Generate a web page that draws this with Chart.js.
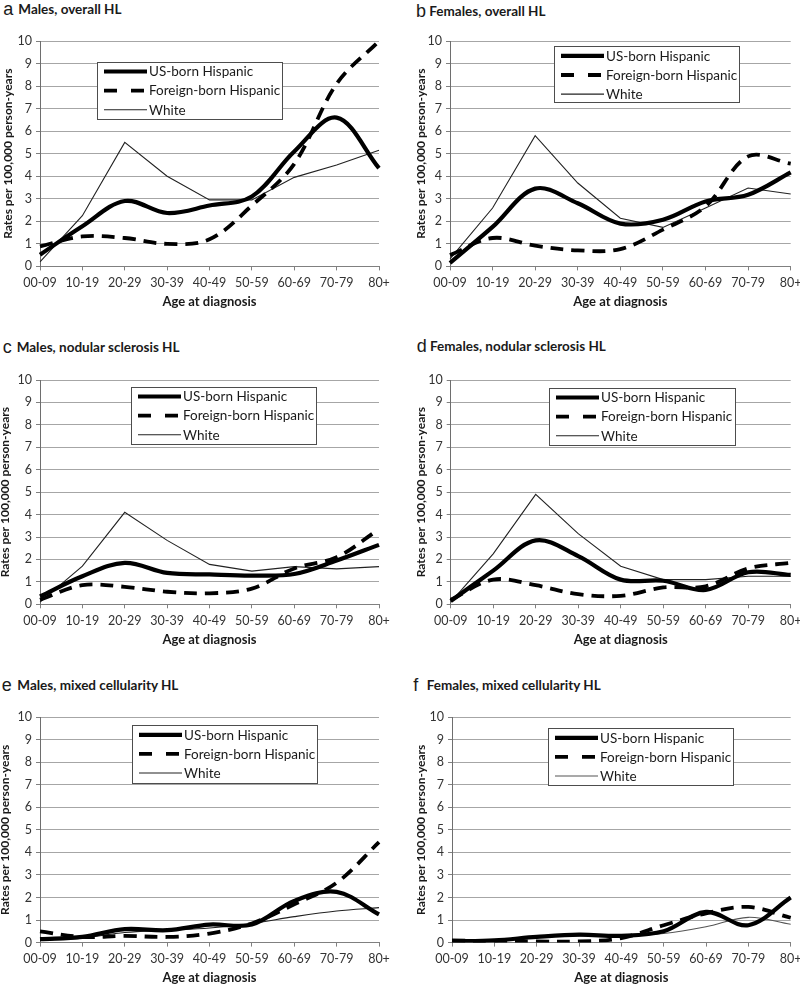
<!DOCTYPE html>
<html>
<head>
<meta charset="utf-8">
<script src="https://cdn.jsdelivr.net/npm/chart.js@4.4.1/dist/chart.umd.min.js"></script>
<style>
html, body { margin:0; padding:0; background:#fff; }
body { width:800px; height:986px; overflow:hidden; position:relative; }
.cv { position:absolute; }
.ttl { position:absolute; white-space:nowrap; color:#1a1a1a; line-height:1; }
.ltr { font-family:"Liberation Sans", Arial, sans-serif; font-size:18px; font-weight:400; }
.txt { font-family:Lato, sans-serif; font-size:13.5px; font-weight:700; }
</style>
</head>
<body>
<script>
// ---------- data ----------
const ageGroups = ['00-09','10-19','20-29','30-39','40-49','50-59','60-69','70-79','80+'];
const seriesLabels = ['US-born Hispanic','Foreign-born Hispanic','White'];
const xAxisTitle = 'Age at diagnosis';
const yAxisTitle = 'Rates per 100,000 person-years';
const yTickMin = 0;
const yTickMax = 10;
const yTickStep = 1;

const panelLetters = ['a','b','c','d','e','f'];
const panelTitles = ['Males, overall HL','Females, overall HL','Males, nodular sclerosis HL','Females, nodular sclerosis HL','Males, mixed cellularity HL','Females, mixed cellularity HL'];

// a: Males, overall HL
const malesOverallUS    = [0.52, 1.78, 2.90, 2.37, 2.70, 3.10, 5.10, 6.60, 4.36];
const malesOverallFB    = [0.89, 1.33, 1.26, 1.00, 1.20, 2.70, 4.55, 8.10, 10.0];
const malesOverallWhite = [0.20, 2.25, 5.50, 4.00, 2.95, 2.95, 3.95, 4.50, 5.15];
// b: Females, overall HL
const femalesOverallUS    = [0.15, 1.75, 3.45, 2.80, 1.90, 2.07, 2.88, 3.18, 4.17];
const femalesOverallFB    = [0.50, 1.26, 0.92, 0.71, 0.77, 1.63, 2.66, 4.88, 4.56];
const femalesOverallWhite = [0.33, 2.59, 5.80, 3.70, 2.14, 1.73, 2.59, 3.48, 3.21];
// c: Males, nodular sclerosis HL
const malesNSUS    = [0.35, 1.25, 1.85, 1.40, 1.33, 1.28, 1.35, 1.95, 2.65];
const malesNSFB    = [0.20, 0.85, 0.78, 0.56, 0.49, 0.70, 1.60, 2.10, 3.35];
const malesNSWhite = [0.10, 1.70, 4.10, 2.85, 1.78, 1.48, 1.68, 1.58, 1.68];
// d: Females, nodular sclerosis HL
const femalesNSUS    = [0.15, 1.50, 2.85, 2.15, 1.10, 1.05, 0.64, 1.43, 1.31];
const femalesNSFB    = [0.20, 1.10, 0.85, 0.45, 0.38, 0.75, 0.80, 1.60, 1.85];
const femalesNSWhite = [0.10, 2.25, 4.90, 3.15, 1.70, 1.10, 1.10, 1.25, 1.25];
// e: Males, mixed cellularity HL
const malesMCUS    = [0.15, 0.25, 0.60, 0.55, 0.80, 0.80, 1.85, 2.25, 1.25];
const malesMCFB    = [0.50, 0.25, 0.30, 0.25, 0.40, 0.85, 1.70, 2.65, 4.45];
const malesMCWhite = [0.10, 0.20, 0.45, 0.55, 0.65, 0.85, 1.15, 1.40, 1.55];
// f: Females, mixed cellularity HL
const femalesMCUS    = [0.05, 0.10, 0.25, 0.35, 0.30, 0.50, 1.36, 0.77, 2.00];
const femalesMCFB    = [0.10, 0.05, 0.05, 0.05, 0.20, 0.77, 1.30, 1.58, 1.10];
const femalesMCWhite = [0.05, 0.10, 0.25, 0.30, 0.30, 0.40, 0.70, 1.12, 0.81];

const panelSeries = [
  [malesOverallUS, malesOverallFB, malesOverallWhite],
  [femalesOverallUS, femalesOverallFB, femalesOverallWhite],
  [malesNSUS, malesNSFB, malesNSWhite],
  [femalesNSUS, femalesNSFB, femalesNSWhite],
  [malesMCUS, malesMCFB, malesMCWhite],
  [femalesMCUS, femalesMCFB, femalesMCWhite]
];

// ---------- layout (page pixels) ----------
const layouts = [
  {L:40,  R:379,   T:41.3, B:266.7, cl:-3,  yt:8.3, ttlY:15,    ltrX:3.3,  txtX:18.3, lg:{x:97,  y:62.3,  w:185, h:57}},
  {L:450, R:790.7, T:41.3, B:266.7, cl:400, yt:421, ttlY:17.3,  ltrX:416,  txtX:429.3,lg:{x:554, y:46.7,  w:185, h:55.5}},
  {L:40,  R:379,   T:380,  B:604.3, cl:-3,  yt:5.5, ttlY:353.3, ltrX:2.7,  txtX:16.7, lg:{x:131, y:387,   w:185, h:57}},
  {L:450.7,R:790.7,T:380,  B:604.3, cl:400, yt:421, ttlY:352.3, ltrX:416.7,txtX:430,  lg:{x:549, y:388,   w:186, h:57}},
  {L:40,  R:379,   T:716.7,B:942.3, cl:-3,  yt:5.5, ttlY:690.7, ltrX:1.7,  txtX:17.3, lg:{x:132, y:725,   w:185, h:58}},
  {L:452, R:790.7, T:716.7,B:942.3, cl:400, yt:421, ttlY:690.7, ltrX:413.3,txtX:426.7,lg:{x:548, y:728,   w:185, h:57}}
];

const PAD_TOP = 14, PAD_BOTTOM = 8, X_AXIS_H = 46, PAD_RIGHT = 20;

const boxLegend = {
  id: 'boxLegend',
  afterDatasetsDraw(chart, args, opts) {
    const ctx = chart.ctx;
    const x = opts.x, y = opts.y;
    ctx.save();
    ctx.fillStyle = '#ffffff';
    ctx.fillRect(x, y, opts.w, opts.h);
    ctx.strokeStyle = '#4d4d4d';
    ctx.lineWidth = 1;
    ctx.strokeRect(Math.round(x) + 0.5, Math.round(y) + 0.5, Math.round(opts.w), Math.round(opts.h));
    chart.data.datasets.forEach((ds, i) => {
      const ry = y + 9.5 + i * 19.1;
      ctx.beginPath();
      ctx.setLineDash(ds.legendDash || []);
      ctx.lineWidth = ds.borderWidth;
      ctx.strokeStyle = ds.borderColor;
      ctx.lineCap = 'butt';
      ctx.moveTo(x + 7, ry);
      ctx.lineTo(x + 50, ry);
      ctx.stroke();
      ctx.setLineDash([]);
      ctx.fillStyle = '#1a1a1a';
      ctx.font = '13.5px Lato, sans-serif';
      ctx.textBaseline = 'middle';
      ctx.textAlign = 'left';
      ctx.fillText(ds.label, x + 52, ry + 0.5);
    });
    ctx.restore();
  }
};

function addTitle(lay, letter, title) {
  const a = document.createElement('div');
  a.className = 'ttl ltr';
  a.textContent = letter;
  a.style.left = lay.ltrX + 'px';
  a.style.top = (lay.ttlY - 15.2) + 'px';
  document.body.appendChild(a);
  const t = document.createElement('div');
  t.className = 'ttl txt';
  t.textContent = title;
  t.style.left = lay.txtX + 'px';
  t.style.top = (lay.ttlY - 12) + 'px';
  document.body.appendChild(t);
}

panelLetters.forEach((letter, p) => {
  const lay = layouts[p];
  const yAxisW = lay.L - lay.cl;
  const top = lay.T - PAD_TOP;
  const width = Math.round(yAxisW + (lay.R - lay.L) + PAD_RIGHT);
  const height = Math.round((lay.B - lay.T) + PAD_TOP + X_AXIS_H + PAD_BOTTOM);
  const padBottom = height - PAD_TOP - (lay.B - lay.T) - X_AXIS_H;
  const padRight = width - yAxisW - (lay.R - lay.L);

  const cv = document.createElement('canvas');
  cv.className = 'cv';
  cv.width = width; cv.height = height;
  cv.style.left = lay.cl + 'px';
  cv.style.top = top + 'px';
  cv.style.width = width + 'px';
  cv.style.height = height + 'px';
  document.body.appendChild(cv);

  addTitle(lay, letter, panelTitles[p]);

  const [us, fb, wh] = panelSeries[p];
  const whiteSmooth = p >= 4;
  const yTitleFont = 12;

  new Chart(cv, {
    type: 'line',
    data: {
      labels: ageGroups,
      datasets: [
        { label: seriesLabels[0], data: us, borderColor: '#000', borderWidth: 4.2, tension: 0.35, pointRadius: 0, fill: false },
        { label: seriesLabels[1], data: fb, borderColor: '#000', borderWidth: 3.8, borderDash: [13, 8], legendDash: [13, 14], tension: 0.35, pointRadius: 0, fill: false },
        { label: seriesLabels[2], data: wh, borderColor: p === 5 ? '#555' : '#222', borderWidth: 1.1, tension: whiteSmooth ? 0.35 : 0, pointRadius: 0, fill: false }
      ]
    },
    options: {
      responsive: false,
      animation: false,
      devicePixelRatio: 1,
      layout: { padding: { left: 0, right: padRight, top: PAD_TOP, bottom: padBottom } },
      plugins: {
        legend: { display: false },
        tooltip: { enabled: false },
        title: { display: false },
        boxLegend: { x: lay.lg.x - lay.cl, y: lay.lg.y - top, w: lay.lg.w, h: lay.lg.h }
      },
      scales: {
        x: {
          type: 'category',
          offset: false,
          grid: { display: true, drawOnChartArea: false, drawTicks: true, tickLength: 4, tickColor: '#808080' },
          border: { display: true, color: '#808080', width: 1 },
          ticks: { autoSkip: false, maxRotation: 0, minRotation: 0, padding: 5, color: '#333', font: { family: 'Lato, sans-serif', size: 12.5 } },
          title: { display: true, text: xAxisTitle, color: '#1a1a1a', font: { family: 'Lato, sans-serif', size: 13, weight: 'bold' }, padding: { top: 0, bottom: 2.5 } },
          afterFit(scale) { scale.height = X_AXIS_H; }
        },
        y: {
          min: yTickMin, max: yTickMax,
          ticks: { stepSize: yTickStep, padding: 4, color: '#333', font: { family: 'Lato, sans-serif', size: 12.5 } },
          grid: { color: '#a6a6a6', lineWidth: 1, drawTicks: true, tickLength: 4, tickColor: '#808080' },
          border: { display: true, color: '#6e6e6e', width: 1 },
          title: { display: true, text: yAxisTitle, color: '#1a1a1a', font: { family: 'Lato, sans-serif', size: yTitleFont, weight: 'bold' }, padding: { top: Math.max(0, (lay.yt - lay.cl) - yTitleFont * 0.6), bottom: 0 } },
          afterFit(scale) { scale.width = yAxisW; }
        }
      }
    },
    plugins: [boxLegend]
  });
});
</script>
</body>
</html>
